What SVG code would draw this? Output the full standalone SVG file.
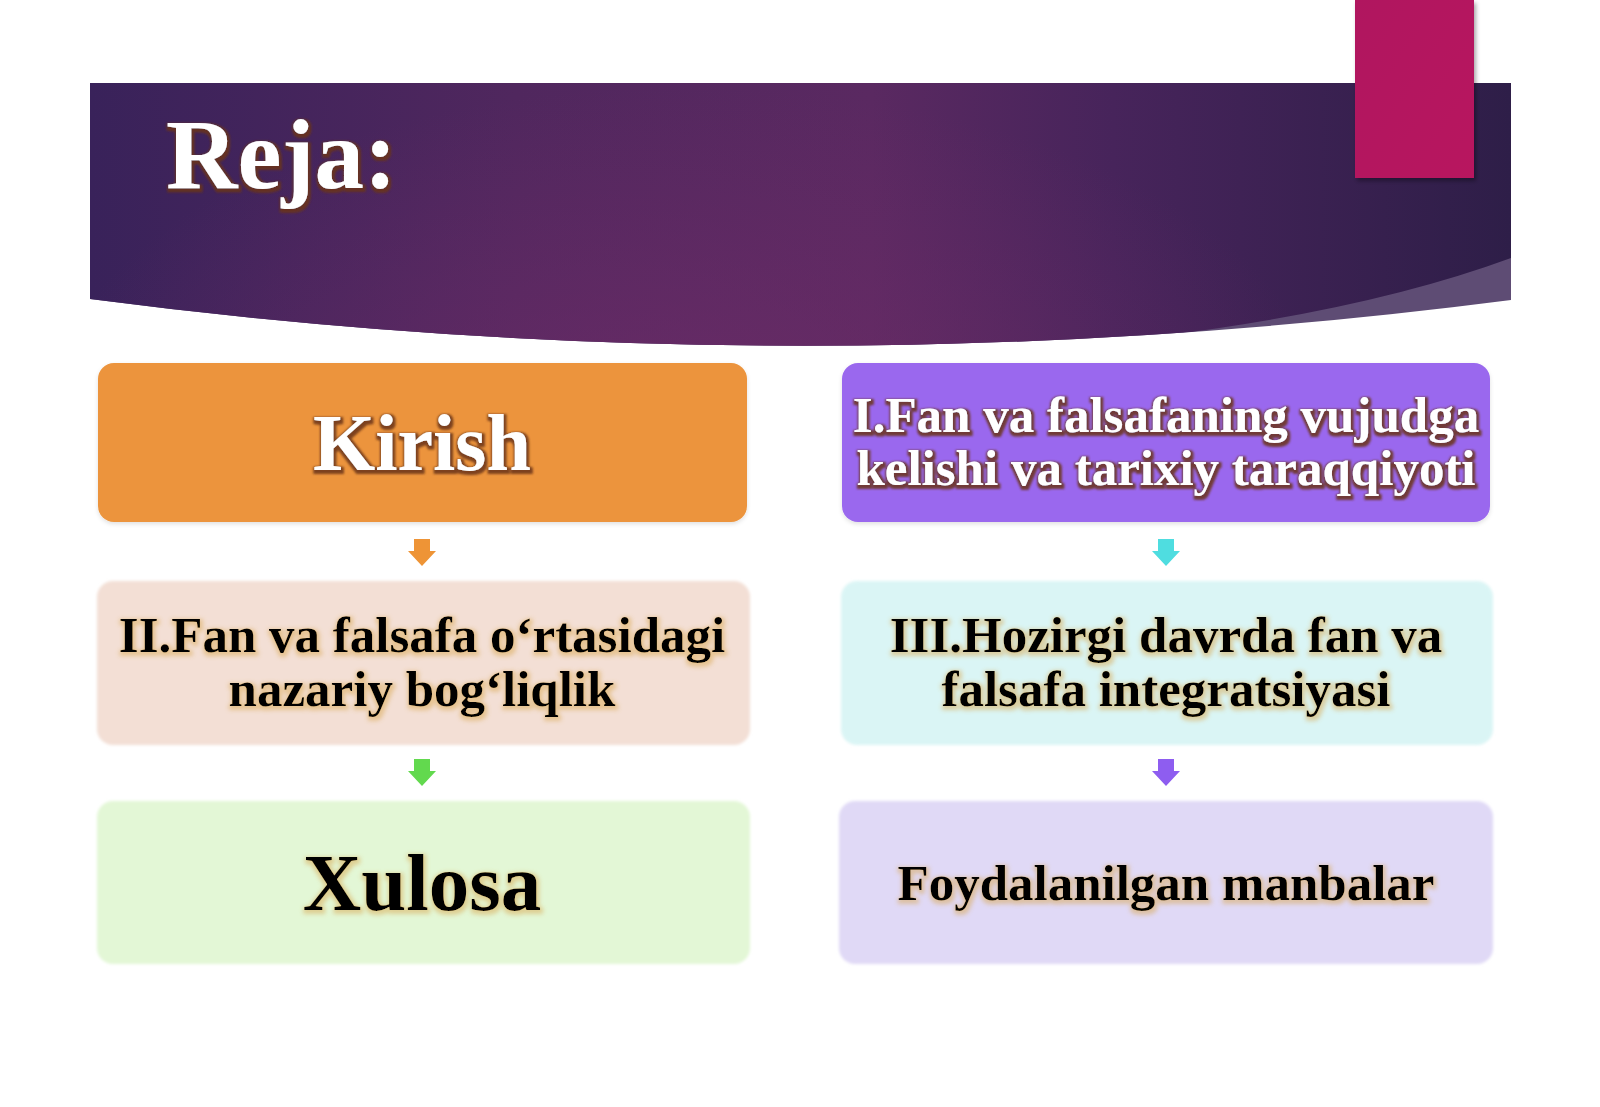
<svg xmlns="http://www.w3.org/2000/svg" width="1600" height="1107" viewBox="0 0 1600 1107">
  <defs>
    <linearGradient id="bannerGrad" x1="0" y1="0" x2="1" y2="0">
      <stop offset="0" stop-color="#39225A"/>
      <stop offset="0.3" stop-color="#50275E"/>
      <stop offset="0.55" stop-color="#5A2961"/>
      <stop offset="0.72" stop-color="#47245B"/>
      <stop offset="1" stop-color="#2E1E48"/>
    </linearGradient>
    <radialGradient id="bannerGlow" cx="0.42" cy="1" r="0.45" gradientTransform="translate(0.42 1) scale(1 2.2) translate(-0.42 -1)">
      <stop offset="0" stop-color="#6E2C68" stop-opacity="0.75"/>
      <stop offset="1" stop-color="#6E2C68" stop-opacity="0"/>
    </radialGradient>
    <linearGradient id="pinkGrad" x1="0" y1="0" x2="1" y2="1">
      <stop offset="0" stop-color="#B0145E"/>
      <stop offset="1" stop-color="#B8145F"/>
    </linearGradient>
    <clipPath id="bannerClip">
      <path d="M90,83 H1511 V300 Q800,392 90,299 Z"/>
    </clipPath>
    <filter id="whiteTxt" x="-10%" y="-30%" width="120%" height="160%">
      <feMorphology in="SourceAlpha" operator="dilate" radius="1.6" result="d"/>
      <feGaussianBlur in="d" stdDeviation="1.2" result="b"/>
      <feFlood flood-color="#6A3418" flood-opacity="0.85"/>
      <feComposite in2="b" operator="in" result="s"/>
      <feOffset in="s" dx="1" dy="2" result="so"/>
      <feMerge><feMergeNode in="so"/><feMergeNode in="SourceGraphic"/></feMerge>
    </filter>
    <filter id="blackTxt" x="-10%" y="-30%" width="120%" height="160%">
      <feMorphology in="SourceAlpha" operator="dilate" radius="1.5" result="d"/>
      <feGaussianBlur in="d" stdDeviation="2" result="b"/>
      <feFlood flood-color="#D9A850" flood-opacity="0.5"/>
      <feComposite in2="b" operator="in" result="s"/>
      <feOffset in="s" dx="1" dy="2" result="so"/>
      <feMerge><feMergeNode in="so"/><feMergeNode in="SourceGraphic"/></feMerge>
    </filter>
    <filter id="boxShadow" x="-5%" y="-5%" width="110%" height="115%">
      <feGaussianBlur in="SourceAlpha" stdDeviation="2"/>
      <feOffset dx="0" dy="2" result="o"/>
      <feFlood flood-color="#000" flood-opacity="0.12"/>
      <feComposite in2="o" operator="in" result="s"/>
      <feMerge><feMergeNode in="s"/><feMergeNode in="SourceGraphic"/></feMerge>
    </filter>
    <filter id="softEdge" x="-5%" y="-5%" width="110%" height="110%">
      <feGaussianBlur stdDeviation="1.5"/>
    </filter>
    <filter id="pinkShadow" x="-20%" y="-10%" width="140%" height="130%">
      <feGaussianBlur in="SourceAlpha" stdDeviation="2"/>
      <feOffset dx="2" dy="3" result="o"/>
      <feFlood flood-color="#000" flood-opacity="0.35"/>
      <feComposite in2="o" operator="in" result="s"/>
      <feMerge><feMergeNode in="s"/><feMergeNode in="SourceGraphic"/></feMerge>
    </filter>
  </defs>
  <style>
    .t { font-family: "Liberation Serif", "Times New Roman", serif; font-weight: bold; text-anchor: middle; }
    .w { fill: #FFFFFF; filter: url(#whiteTxt); }
    .k { fill: #000000; filter: url(#blackTxt); }
  </style>

  <rect x="0" y="0" width="1600" height="1107" fill="#FFFFFF"/>

  <!-- Header banner -->
  <g id="banner">
    <path d="M90,83 H1511 V300 Q800,392 90,299 Z" fill="#5E4C74"/>
    <g clip-path="url(#bannerClip)">
      <path d="M90,83 H1511 V258 Q1370,310 1160,336 L1160,420 L90,420 Z" fill="url(#bannerGrad)"/>
      <path d="M90,83 H1511 V258 Q1370,310 1160,336 L1160,420 L90,420 Z" fill="url(#bannerGlow)"/>
    </g>
    <text x="166" y="188" font-family="Liberation Serif, Times New Roman, serif" font-weight="bold" font-size="99" class="w">Reja:</text>
  </g>
  <g id="accent">
    <rect x="1355" y="0" width="119" height="178" fill="url(#pinkGrad)" filter="url(#pinkShadow)"/>
  </g>

  <!-- Connectors -->
  <g id="connectors">
    <path d="M414,539 H430 V551 H436 L422,566 L408,551 H414 Z" fill="#EE9436"/>
    <path d="M414,759 H430 V771 H436 L422,786 L408,771 H414 Z" fill="#62D94E"/>
    <path d="M1158,539 H1174 V551 H1180 L1166,566 L1152,551 H1158 Z" fill="#4FDDE0"/>
    <path d="M1158,759 H1174 V771 H1180 L1166,786 L1152,771 H1158 Z" fill="#8E5DF0"/>
  </g>

  <!-- Left column -->
  <g id="node-kirish">
    <rect x="98" y="363" width="649" height="159" rx="16" fill="#EC943C" filter="url(#boxShadow)"/>
    <text x="422" y="470" font-size="80" class="t w">Kirish</text>
  </g>
  <g id="node-ii">
    <rect x="97" y="581" width="653" height="164" rx="16" fill="#F3DFD5" filter="url(#softEdge)"/>
    <text x="422" y="652" font-size="51" class="t k">II.Fan va falsafa o‘rtasidagi</text>
    <text x="422" y="706" font-size="51" class="t k">nazariy bog‘liqlik</text>
  </g>
  <g id="node-xulosa">
    <rect x="97" y="801" width="653" height="163" rx="16" fill="#E3F7D6" filter="url(#softEdge)"/>
    <text x="422" y="910" font-size="81" class="t k">Xulosa</text>
  </g>

  <!-- Right column -->
  <g id="node-i">
    <rect x="842" y="363" width="648" height="159" rx="16" fill="#9A68EE" filter="url(#boxShadow)"/>
    <text x="1166" y="432" font-size="51" class="t w">I.Fan va falsafaning vujudga</text>
    <text x="1166" y="485" font-size="51" class="t w">kelishi va tarixiy taraqqiyoti</text>
  </g>
  <g id="node-iii">
    <rect x="841" y="581" width="652" height="164" rx="16" fill="#DAF5F5" filter="url(#softEdge)"/>
    <text x="1166" y="652" font-size="51" class="t k">III.Hozirgi davrda fan va</text>
    <text x="1166" y="706" font-size="51" class="t k">falsafa integratsiyasi</text>
  </g>
  <g id="node-manbalar">
    <rect x="839" y="801" width="654" height="163" rx="16" fill="#E0D9F6" filter="url(#softEdge)"/>
    <text x="1166" y="900" font-size="51" class="t k">Foydalanilgan manbalar</text>
  </g>
</svg>
